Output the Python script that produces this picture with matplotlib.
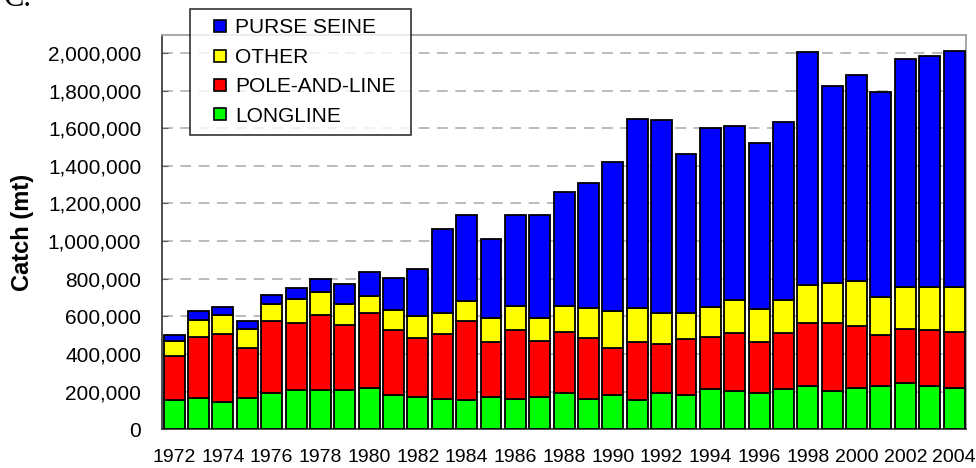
import numpy as np
import matplotlib.pyplot as plt
from matplotlib.lines import Line2D
from matplotlib.ticker import FuncFormatter

plt.rcParams['font.family'] = ['Liberation Sans', 'DejaVu Sans']

years = list(range(1972, 2005))

longline = [154, 163, 144, 163, 191, 209, 209, 209, 218, 182, 172, 161, 154, 172, 161, 172,
            190, 161, 181, 154, 191, 181, 211, 202, 191, 211, 229, 202, 220, 229, 248, 229, 220]
pole_line_top = [387, 489, 507, 433, 573, 564, 608, 555, 617, 527, 482, 507, 573, 461, 527, 470,
                 514, 482, 433, 461, 451, 480, 491, 509, 464, 509, 564, 564, 546, 502, 535, 528, 516]
other_top = [468, 580, 608, 534, 663, 691, 729, 663, 709, 635, 599, 617, 682, 590, 654, 590,
             654, 644, 629, 644, 617, 617, 647, 685, 637, 685, 766, 777, 787, 704, 757, 757, 757]
total = [500, 629, 649, 574, 714, 750, 796, 771, 833, 805, 851, 1065, 1140, 1009, 1140, 1140,
         1262, 1307, 1418, 1651, 1641, 1464, 1603, 1613, 1520, 1633, 2004, 1826, 1885, 1793, 1966, 1986, 2012]

longline = np.array(longline) * 1000
pole_line = np.array(pole_line_top) * 1000 - longline
other = np.array(other_top) * 1000 - np.array(pole_line_top) * 1000
purse_seine = np.array(total) * 1000 - np.array(other_top) * 1000

colors = {'PURSE SEINE': '#0000ff', 'OTHER': '#ffff00', 'POLE-AND-LINE': '#ff0000', 'LONGLINE': '#00ff00'}

fig = plt.figure(figsize=(9.76, 4.68), dpi=100)
ax = fig.add_axes([0.166, 0.083, 0.824, 0.842])

x = np.arange(len(years))
w = 0.86
kw = dict(width=w, edgecolor='black', linewidth=1.3, zorder=3)
ax.bar(x, longline, color=colors['LONGLINE'], **kw)
ax.bar(x, pole_line, bottom=longline, color=colors['POLE-AND-LINE'], **kw)
ax.bar(x, other, bottom=longline + pole_line, color=colors['OTHER'], **kw)
ax.bar(x, purse_seine, bottom=longline + pole_line + other, color=colors['PURSE SEINE'], **kw)

ax.set_xlim(-0.5, len(years) - 0.5)
ax.set_ylim(0, 2.095e6)
ax.set_yticks(np.arange(0, 2000001, 200000))
ax.yaxis.set_major_formatter(FuncFormatter(lambda v, p: f'{int(v):,}'))
ax.set_xticks(x[::2])
ax.set_xticklabels([str(y) for y in years[::2]], fontsize=14)
ax.tick_params(axis='x', length=0, pad=14)
ax.tick_params(axis='y', labelsize=15, direction='in', length=4, color='#606060', pad=15)

for v in np.arange(200000, 2000001, 200000):
    ax.axhline(v, color='#a8a8a8', linestyle=(0, (7, 5)), linewidth=1.1, zorder=1)

for s in ['left', 'bottom']:
    ax.spines[s].set_color('#404040')
    ax.spines[s].set_linewidth(1.3)
for s in ['top', 'right']:
    ax.spines[s].set_color('#a0a0a0')
    ax.spines[s].set_linewidth(1.3)

ax.set_ylabel('Catch (mt)', fontsize=17, fontweight='bold', labelpad=10)

handles = [Line2D([], [], linestyle='none', marker='s', markersize=8.5, markerfacecolor=c,
                  markeredgecolor='black', markeredgewidth=1.2, label=k) for k, c in colors.items()]
leg = ax.legend(handles=handles, loc='upper left', bbox_to_anchor=(0.035, 0.0, 0.275, 1.066),
                mode='expand', fontsize=15, frameon=True, fancybox=False, borderaxespad=0,
                handlelength=2.0, handletextpad=-0.3,
                labelspacing=0.5, borderpad=0.45)
leg.get_frame().set_edgecolor('black')
leg.get_frame().set_linewidth(1.2)
leg.set_zorder(10)

fig.text(0.004, 1.035, 'C.', fontsize=22, family='Liberation Serif', va='top', ha='left')

fig.savefig('out.png', dpi=100)
